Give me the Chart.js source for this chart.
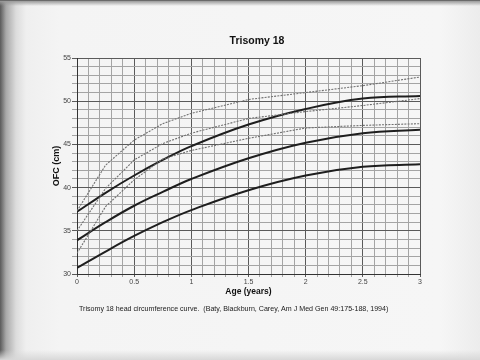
<!DOCTYPE html>
<html>
<head>
<meta charset="utf-8">
<script src="https://cdn.jsdelivr.net/npm/chart.js@4.4.1/dist/chart.umd.min.js"></script>
<style>
    html, body {
        margin: 0;
        padding: 0;
    }
    body {
        width: 480px;
        height: 360px;
        overflow: hidden;
        background:
            linear-gradient(to bottom, #3a3a3a 0px, #9a9a9a 1px, rgba(240,240,240,0) 6px),
            linear-gradient(to top, #d8d8d8 0px, rgba(240,240,240,0) 10px),
            linear-gradient(to right, #5a5a5a 0px, #a8a8a8 6px, #dcdcdc 16px, #efefef 26px, #f4f4f4 60px, #f6f6f6 440px, #ececec 480px);
    }
    #wrap {
        position: absolute;
        left: 0;
        top: 0;
        width: 480px;
        height: 360px;
    }
</style>
</head>
<body>
<div id="wrap"><canvas id="chart" width="480" height="360"></canvas></div>
<script>
    const chartTitle = 'Trisomy 18';
    const caption = 'Trisomy 18 head circumference curve.  (Baty, Blackburn, Carey, Am J Med Gen 49:175-188, 1994)';
    const xTitle = 'Age (years)';
    const yTitle = 'OFC (cm)';

    // ages in years
    const ages = [0, 0.25, 0.5, 0.75, 1, 1.5, 2, 2.5, 3];

    // trisomy 18 curves (solid)
    const t18High = [37.2, 39.4, 41.4, 43.2, 44.8, 47.3, 49.1, 50.3, 50.6];
    const t18Mid = [33.9, 36.0, 37.9, 39.5, 41.0, 43.4, 45.2, 46.3, 46.7];
    const t18Low = [30.7, 32.6, 34.4, 36.0, 37.4, 39.7, 41.4, 42.4, 42.7];

    // normal curves (dotted)
    const normHigh = [37.3, 42.6, 45.5, 47.4, 48.6, 50.2, 51.0, 51.8, 52.8];
    const normMid = [35.0, 39.9, 43.2, 45.1, 46.3, 48.0, 48.8, 49.5, 50.3];
    const normLow = [32.4, 37.8, 40.9, 43.3, 44.3, 45.7, 46.9, 47.2, 47.4];

    const font = '"Liberation Sans", Arial, sans-serif';

    function points(values) {
        return values.map((v, i) => ({x: ages[i], y: v}));
    }

    function solid(values) {
        return {
            data: points(values),
            borderColor: '#1e1e1e',
            borderWidth: 2,
            pointRadius: 0,
            fill: false,
            tension: 0.4,
        };
    }

    function dotted(values) {
        return {
            data: points(values),
            borderColor: '#707070',
            borderWidth: 1.1,
            borderDash: [2, 1.2],
            pointRadius: 0,
            fill: false,
            tension: 0,
        };
    }

    function isMultiple(value, step) {
        const q = value / step;
        return Math.abs(q - Math.round(q)) < 1e-6;
    }

    const pageText = {
        id: 'pageText',
        afterDraw(chart) {
            const ctx = chart.ctx;
            ctx.save();
            ctx.fillStyle = '#111';
            ctx.textBaseline = 'middle';
            ctx.textAlign = 'center';
            ctx.font = 'bold 10.5px ' + font;
            ctx.fillText(chartTitle, 257, 41);
            ctx.textAlign = 'left';
            ctx.font = '7.1px ' + font;
            ctx.fillStyle = '#1a1a1a';
            ctx.fillText(caption, 79, 309);
            ctx.restore();
        }
    };

    new Chart(document.getElementById('chart'), {
        type: 'line',
        data: {
            datasets: [
                dotted(normHigh),
                dotted(normMid),
                dotted(normLow),
                solid(t18High),
                solid(t18Mid),
                solid(t18Low),
            ]
        },
        options: {
            responsive: false,
            animation: false,
            layout: {
                padding: {left: 51, right: 60, top: 58, bottom: 56}
            },
            plugins: {
                legend: {display: false},
                tooltip: {enabled: false},
            },
            scales: {
                x: {
                    type: 'linear',
                    min: 0,
                    max: 3,
                    afterFit: scale => { scale.height = 30; },
                    ticks: {
                        stepSize: 0.1,
                        autoSkip: false,
                        maxRotation: 0,
                        padding: 1,
                        color: '#444',
                        font: {family: font, size: 7},
                        callback: value => isMultiple(value, 0.5) ? String(Math.round(value * 2) / 2) : '',
                    },
                    grid: {
                        color: ctx => isMultiple(ctx.tick.value, 0.5) ? '#5a5a5a' : '#a4a4a4',
                        lineWidth: 1,
                        tickLength: 3,
                    },
                    border: {color: '#333', width: 1},
                    title: {
                        display: true,
                        text: xTitle,
                        color: '#111',
                        font: {family: font, size: 8.5, weight: 'bold'},
                        padding: {top: 0, bottom: 7},
                    },
                },
                y: {
                    min: 30,
                    max: 55,
                    afterFit: scale => { scale.width = 26; },
                    ticks: {
                        stepSize: 1,
                        autoSkip: false,
                        padding: 1,
                        color: '#444',
                        font: {family: font, size: 7},
                        callback: value => isMultiple(value, 5) ? String(value) : '',
                    },
                    grid: {
                        color: ctx => isMultiple(ctx.tick.value, 5) ? '#5a5a5a' : '#a4a4a4',
                        lineWidth: 1,
                        tickLength: 5,
                    },
                    border: {color: '#333', width: 1},
                    title: {
                        display: true,
                        text: yTitle,
                        color: '#111',
                        font: {family: font, size: 9, weight: 'bold'},
                        padding: 0,
                    },
                },
            },
        },
        plugins: [pageText],
    });
</script>
</body>
</html>
